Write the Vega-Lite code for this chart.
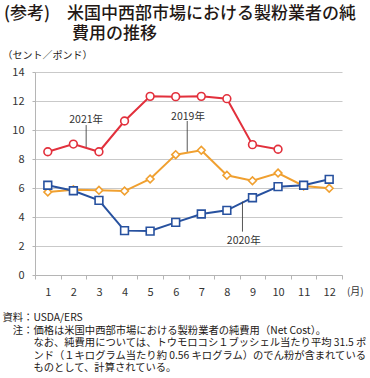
{
  "$schema": "https://vega.github.io/schema/vega-lite/v6.json",
  "width": 307,
  "height": 203,
  "autosize": {"type": "none"},
  "padding": {"left": 35, "top": 72, "right": 28, "bottom": 103},
  "background": "white",
  "config": {
    "font": "Noto Sans CJK JP",
    "view": {"stroke": null},
    "axis": {"labelOverlap": false, "labelSeparation": 0}
  },
  "title": {
    "text": ["\u200b(参考)　米国中西部市場における製粉業者の純", "\u200b　　　　費用の推移"],
    "anchor": "start",
    "frame": "group",
    "dx": -31,
    "offset": 8,
    "fontSize": 17,
    "fontWeight": 500,
    "lineHeight": 20,
    "color": "#231815"
  },
  "datasets": {
    "series": [
      {"month": 1, "year": "2019", "value": 5.72},
      {"month": 2, "year": "2019", "value": 5.88},
      {"month": 3, "year": "2019", "value": 5.84},
      {"month": 4, "year": "2019", "value": 5.79},
      {"month": 5, "year": "2019", "value": 6.62},
      {"month": 6, "year": "2019", "value": 8.30},
      {"month": 7, "year": "2019", "value": 8.60},
      {"month": 8, "year": "2019", "value": 6.88},
      {"month": 9, "year": "2019", "value": 6.50},
      {"month": 10, "year": "2019", "value": 7.03},
      {"month": 11, "year": "2019", "value": 6.14},
      {"month": 12, "year": "2019", "value": 5.98},
      {"month": 1, "year": "2020", "value": 6.19},
      {"month": 2, "year": "2020", "value": 5.81},
      {"month": 3, "year": "2020", "value": 5.15},
      {"month": 4, "year": "2020", "value": 3.06},
      {"month": 5, "year": "2020", "value": 3.03},
      {"month": 6, "year": "2020", "value": 3.63},
      {"month": 7, "year": "2020", "value": 4.21},
      {"month": 8, "year": "2020", "value": 4.46},
      {"month": 9, "year": "2020", "value": 5.33},
      {"month": 10, "year": "2020", "value": 6.09},
      {"month": 11, "year": "2020", "value": 6.19},
      {"month": 12, "year": "2020", "value": 6.60},
      {"month": 1, "year": "2021", "value": 8.50},
      {"month": 2, "year": "2021", "value": 9.03},
      {"month": 3, "year": "2021", "value": 8.50},
      {"month": 4, "year": "2021", "value": 10.62},
      {"month": 5, "year": "2021", "value": 12.32},
      {"month": 6, "year": "2021", "value": 12.30},
      {"month": 7, "year": "2021", "value": 12.32},
      {"month": 8, "year": "2021", "value": 12.16},
      {"month": 9, "year": "2021", "value": 8.99},
      {"month": 10, "year": "2021", "value": 8.67}
    ],
    "notes": [
      {"label": "2021年", "tx": 2.5, "ty": 10.72, "lx": 2.5, "ly1": 10.34, "ly2": 8.83},
      {"label": "2019年", "tx": 6.48, "ty": 10.88, "lx": 6.45, "ly1": 10.62, "ly2": 8.5},
      {"label": "2020年", "tx": 8.66, "ty": 2.34, "lx": 8.61, "ly1": 5.06, "ly2": 2.99}
    ]
  },
  "layer": [
    {
      "data": {"name": "series"},
      "mark": {"type": "line", "strokeWidth": 2},
      "encoding": {
        "x": {
          "field": "month",
          "type": "quantitative",
          "scale": {"domain": [0.5, 12.5], "nice": false, "zero": false},
          "axis": {
            "values": [0.5, 1.5, 2.5, 3.5, 4.5, 5.5, 6.5, 7.5, 8.5, 9.5, 10.5, 11.5, 12.5],
            "tickCount": 30,
            "labelExpr": "datum.value < 12 ? format(datum.value + 0.5, 'd') : '(月)'",
            "labelOffset": 12.8,
            "labelFlush": false,
            "labelOverlap": false,
            "labelBound": false,
            "labelFontSize": {"condition": {"test": "datum.value > 12", "value": 10}, "value": 11},
            "labelColor": "#333333",
            "labelPadding": 7,
            "grid": false,
            "domainColor": "#b5b5b5",
            "tickColor": "#b5b5b5",
            "tickSize": 4,
            "title": [
              "\u200b資料：USDA/ERS",
              "\u200b　注：価格は米国中西部市場における製粉業者の純費用（Net Cost）。",
              "\u200b　　　なお、純費用については、トウモロコシ１ブッシェル当たり平均 31.5 ポ",
              "\u200b　　　ンド（１キログラム当たり約 0.56 キログラム）のでん粉が含まれている",
              "\u200b　　　ものとして、計算されている。"
            ],
            "titleX": -33,
            "titleY": 37.5,
            "titleAlign": "left",
            "titleAnchor": "start",
            "titleBaseline": "top",
            "titleFontSize": 10.3,
            "titleFontWeight": "normal",
            "titleLineHeight": 12.6,
            "titleColor": "#231815"
          }
        },
        "y": {
          "field": "value",
          "type": "quantitative",
          "scale": {"domain": [0, 14], "nice": false},
          "axis": {
            "values": [0, 2, 4, 6, 8, 10, 12, 14],
            "tickCount": 30,
            "format": "d",
            "labelOverlap": false,
            "grid": true,
            "gridColor": "#c9c9c9",
            "domainColor": "#b5b5b5",
            "tickColor": "#b5b5b5",
            "tickSize": 3,
            "labelFontSize": 11,
            "labelColor": "#333333",
            "labelPadding": 8,
            "title": "（セント／ポンド）",
            "titleAngle": 0,
            "titleX": -33,
            "titleY": -16.5,
            "titleAlign": "left",
            "titleBaseline": "middle",
            "titleFontSize": 10,
            "titleFontWeight": "normal",
            "titleColor": "#231815"
          }
        },
        "stroke": {
          "field": "year",
          "type": "nominal",
          "scale": {"domain": ["2019", "2020", "2021"], "range": ["#F0A030", "#27519F", "#E2303C"]},
          "legend": null
        },
        "detail": {"field": "year"}
      }
    },
    {
      "data": {"name": "series"},
      "mark": {"type": "point", "filled": false, "fill": "white", "fillOpacity": 1, "strokeWidth": 1.6, "size": 60, "opacity": 1},
      "encoding": {
        "x": {"field": "month", "type": "quantitative"},
        "y": {"field": "value", "type": "quantitative"},
        "stroke": {"field": "year", "type": "nominal", "legend": null},
        "shape": {
          "field": "year",
          "type": "nominal",
          "scale": {"domain": ["2019", "2020", "2021"], "range": ["diamond", "square", "circle"]},
          "legend": null
        }
      }
    },
    {
      "data": {"name": "notes"},
      "mark": {"type": "rule", "color": "#444444", "strokeWidth": 0.9},
      "encoding": {
        "x": {"field": "lx", "type": "quantitative"},
        "y": {"field": "ly1", "type": "quantitative"},
        "y2": {"field": "ly2"}
      }
    },
    {
      "data": {"name": "notes"},
      "mark": {"type": "text", "fontSize": 10.5, "color": "#333333", "baseline": "middle", "align": "center"},
      "encoding": {
        "x": {"field": "tx", "type": "quantitative"},
        "y": {"field": "ty", "type": "quantitative"},
        "text": {"field": "label"}
      }
    }
  ]
}
